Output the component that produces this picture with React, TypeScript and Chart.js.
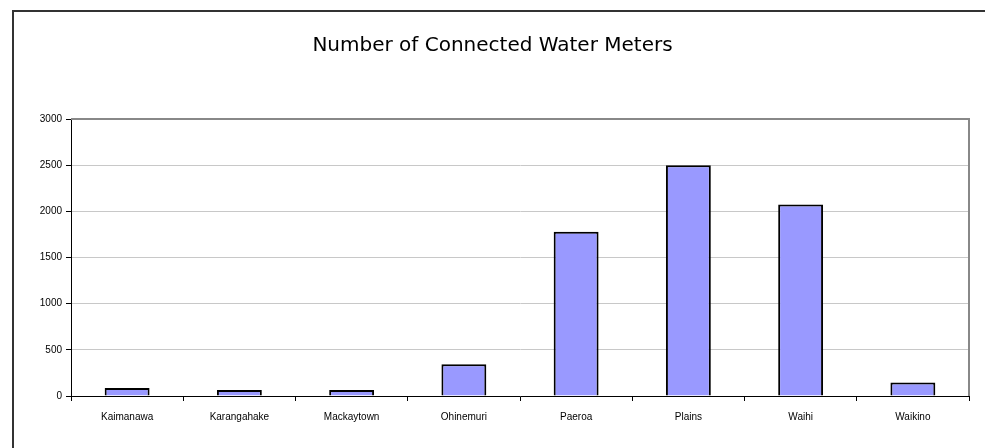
import React, { useEffect, useRef } from "react";
import { Chart, registerables } from "chart.js";

Chart.register(...registerables);

const categories = ["Kaimanawa", "Karangahake", "Mackaytown", "Ohinemuri", "Paeroa", "Plains", "Waihi", "Waikino"];
const meters = [87, 65, 65, 343, 1780, 2500, 2075, 147];
const titleText = "Number of Connected Water Meters";

const framePlugin = {
  id: "frame",
  beforeDraw(chart: any) {
    const { ctx } = chart;
    ctx.save();
    ctx.strokeStyle = "#333333";
    ctx.lineWidth = 2;
    ctx.beginPath();
    ctx.moveTo(13, 460);
    ctx.lineTo(13, 11);
    ctx.lineTo(1000, 11);
    ctx.stroke();
    ctx.restore();
  },
  afterDatasetsDraw(chart: any) {
    const { ctx, chartArea } = chart;
    ctx.save();
    ctx.strokeStyle = "#888888";
    ctx.lineWidth = 2;
    ctx.beginPath();
    ctx.moveTo(chartArea.left, chartArea.top);
    ctx.lineTo(chartArea.right, chartArea.top);
    ctx.lineTo(chartArea.right, chartArea.bottom);
    ctx.stroke();
    ctx.restore();
  },
};

export default function App() {
  const ref = useRef<HTMLCanvasElement>(null);
  useEffect(() => {
    if (!ref.current) return;
    const chart = new Chart(ref.current, {
      type: "bar",
      data: {
        labels: categories,
        datasets: [
          {
            data: meters,
            backgroundColor: "#9999ff",
            borderColor: "#000000",
            borderWidth: 2,
            barPercentage: 0.4,
            categoryPercentage: 1,
          },
        ],
      },
      options: {
        animation: false,
        responsive: false,
        layout: { padding: { left: 16, right: 16, top: 0, bottom: 0 } },
        plugins: {
          legend: { display: false },
          tooltip: { enabled: false },
          title: {
            display: true,
            text: titleText,
            color: "#000000",
            font: { family: "DejaVu Sans", size: 20, weight: "normal" },
            padding: { top: 34, bottom: 61 },
          },
        },
        scales: {
          x: {
            grid: {
              display: true,
              drawOnChartArea: false,
              drawTicks: true,
              tickLength: 5,
              tickColor: "#000000",
              offset: true,
            },
            border: { display: true, color: "#000000", width: 1 },
            ticks: {
              color: "#000000",
              font: { family: "Liberation Sans", size: 10 },
              padding: 10,
              maxRotation: 0,
              autoSkip: false,
            },
            afterFit(scale: any) {
              scale.height = 52;
            },
          },
          y: {
            min: 0,
            max: 3000,
            grid: {
              color: (c: any) => (c.tick && c.tick.value === 3000 ? "#888888" : "#c8c8c8"),
              tickLength: 5,
              tickColor: "#000000",
            },
            border: { display: true, color: "#000000", width: 1 },
            ticks: {
              stepSize: 500,
              color: "#000000",
              font: { family: "Liberation Sans", size: 10 },
              padding: 4,
              callback: (v: any) => String(v),
            },
            afterFit(scale: any) {
              scale.width = 55;
            },
          },
        },
      },
      plugins: [framePlugin],
    });
    return () => chart.destroy();
  }, []);
  return (
    <div style={{ position: "fixed", left: 0, top: 0, width: 985, height: 448, background: "#ffffff" }}>
      <canvas ref={ref} width={985} height={448} style={{ width: 985, height: 448, display: "block" }} />
    </div>
  );
}
